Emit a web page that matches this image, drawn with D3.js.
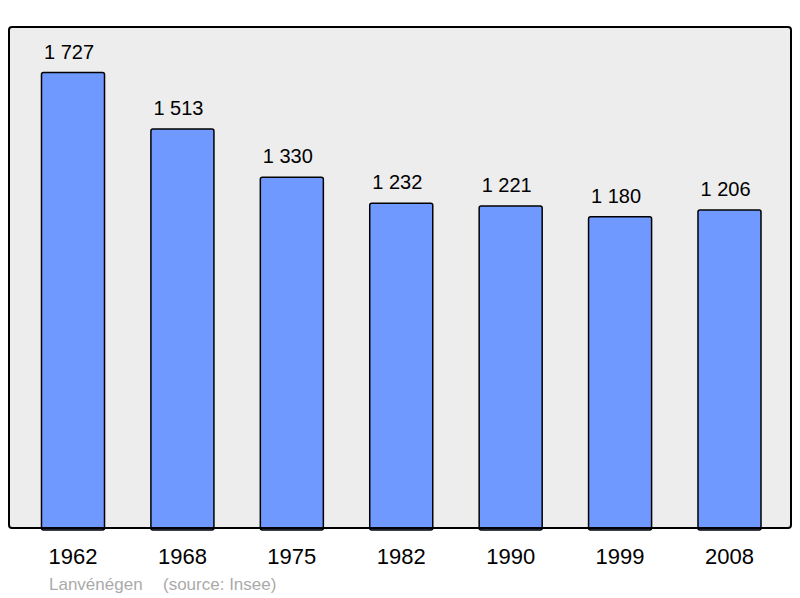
<!DOCTYPE html>
<meta charset="utf-8">
<script src="https://d3js.org/d3.v7.min.js"></script>
<style>
  body { margin: 0; background: #fff; }
  text { font-family: "Liberation Sans", Arial, sans-serif; }
</style>
<body>
<div id="chart"></div>
<script>
// data
var years = ["1962", "1968", "1975", "1982", "1990", "1999", "2008"];
var population = [1727, 1513, 1330, 1232, 1221, 1180, 1206];
var labels = ["1 727", "1 513", "1 330", "1 232", "1 221", "1 180", "1 206"];
var commune = "Lanvénégen";
var source = "(source: Insee)";

var width = 800, height = 598;
var frame = {left: 9, top: 27, right: 791, bottom: 528};

var svg = d3.select("#chart").append("svg")
    .attr("width", width)
    .attr("height", height);

// plot background
svg.append("rect")
    .attr("x", frame.left)
    .attr("y", frame.top)
    .attr("width", frame.right - frame.left)
    .attr("height", frame.bottom - frame.top)
    .attr("rx", 3)
    .style("fill", "#ededed")
    .style("stroke", "none");

var x = d3.scaleBand()
    .domain(years)
    .range([18.3, 784.2])
    .paddingInner(0.424)
    .paddingOuter(0.212);

var y = d3.scaleLinear()
    .domain([0, 1900])
    .range([frame.bottom, frame.top]);

var data = years.map(function(d, i) { return {year: d, value: population[i], label: labels[i]}; });

svg.append("g")
  .selectAll("rect")
  .data(data)
  .enter()
  .append("rect")
    .attr("x", function(d) { return x(d.year); })
    .attr("y", function(d) { return y(d.value); })
    .attr("width", x.bandwidth())
    .attr("height", function(d) { return y(0) - y(d.value) + 2; })
    .attr("rx", 2)
    .style("fill", "#7099ff")
    .style("stroke", "#000")
    .style("stroke-width", 1.5);

// value labels (sit a little left of the bar centre in the original)
svg.append("g")
  .selectAll("text")
  .data(data)
  .enter()
  .append("text")
    .attr("x", function(d) { return x(d.year) + x.bandwidth() / 2 - 4; })
    .attr("y", function(d) { return y(d.value) - 14; })
    .attr("text-anchor", "middle")
    .style("font-size", "20px")
    .style("fill", "#000")
    .text(function(d) { return d.label; });

// frame outline on top
svg.append("rect")
    .attr("x", frame.left)
    .attr("y", frame.top)
    .attr("width", frame.right - frame.left)
    .attr("height", frame.bottom - frame.top)
    .attr("rx", 3)
    .style("fill", "none")
    .style("stroke", "#000")
    .style("stroke-width", 2);

// x axis labels
var xAxis = d3.axisBottom(x).tickSize(0).tickPadding(0);
var gx = svg.append("g")
    .attr("transform", "translate(0," + frame.bottom + ")")
    .call(xAxis);
gx.select(".domain").remove();
gx.selectAll("text")
    .attr("dy", null)
    .attr("y", 36)
    .style("font-size", "22px")
    .style("font-family", "'Liberation Sans', Arial, sans-serif")
    .style("fill", "#000");

// footer
svg.append("text")
    .attr("x", 49)
    .attr("y", 590)
    .style("font-size", "17px")
    .style("fill", "#aaaaaa")
    .text(commune);
svg.append("text")
    .attr("x", 163)
    .attr("y", 590)
    .style("font-size", "17px")
    .style("fill", "#aaaaaa")
    .text(source);
</script>
</body>
